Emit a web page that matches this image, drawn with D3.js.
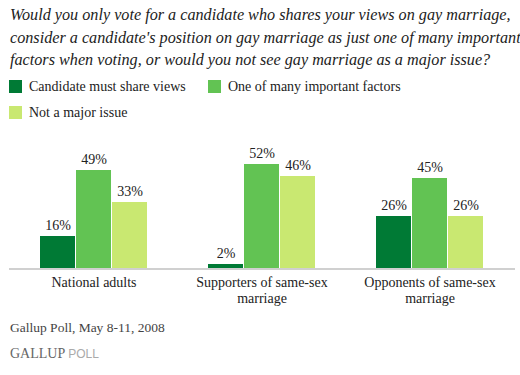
<!DOCTYPE html>
<html>
<head>
<meta charset="utf-8">
<script src="https://cdn.jsdelivr.net/npm/d3@7"></script>
</head>
<body style="margin:0">
<div id="chart"></div>
<script>
var categories = [["National adults"], ["Supporters of same-sex", "marriage"], ["Opponents of same-sex", "marriage"]];
var seriesNames = ["Candidate must share views", "One of many important factors", "Not a major issue"];
var mustShare = [16, 2, 26];
var manyFactors = [49, 52, 45];
var notMajor = [33, 46, 26];
var colors = ["#007a35", "#62c353", "#c9e871"];
var titleLines = [
  "Would you only vote for a candidate who shares your views on gay marriage,",
  "consider a candidate's position on gay marriage as just one of many important",
  "factors when voting, or would you not see gay marriage as a major issue?"
];

var width = 520, height = 375;
var svg = d3.select("#chart").append("svg")
    .attr("width", width)
    .attr("height", height);

// title
svg.append("g").selectAll("text")
    .data(titleLines)
  .enter().append("text")
    .attr("x", 10)
    .attr("y", function(d, i) { return 20 + i * 22.5; })
    .attr("font-family", "'Times New Roman'")
    .attr("font-style", "italic")
    .attr("font-size", 16.2)
    .attr("fill", "#222")
    .text(function(d) { return d; });

// legend
var legendPos = [[9, 80], [208, 80], [9, 106]];
var legend = svg.append("g").selectAll("g")
    .data(seriesNames)
  .enter().append("g")
    .attr("transform", function(d, i) { return "translate(" + legendPos[i][0] + "," + legendPos[i][1] + ")"; });
legend.append("rect")
    .attr("width", 13).attr("height", 13)
    .attr("fill", function(d, i) { return colors[i]; });
legend.append("text")
    .attr("x", 20).attr("y", 10.5)
    .attr("font-family", "'Times New Roman'")
    .attr("font-size", 14)
    .attr("fill", "#222")
    .text(function(d) { return d; });

// data table
var rows = categories.map(function(c, i) {
  return {cat: c, values: [mustShare[i], manyFactors[i], notMajor[i]]};
});

var baseline = 268;
var x0 = d3.scaleBand()
    .domain(d3.range(categories.length))
    .range([10, 514]);
var x1 = d3.scaleBand()
    .domain([0, 1, 2])
    .range([0, 108]);
var y = d3.scaleLinear()
    .domain([0, 100])
    .range([baseline, baseline - 200]);

var groups = svg.append("g").selectAll("g")
    .data(rows)
  .enter().append("g")
    .attr("transform", function(d, i) { return "translate(" + (x0(i) + x0.bandwidth() / 2 - 54) + ",0)"; });

groups.selectAll("rect")
    .data(function(d) { return d.values; })
  .enter().append("rect")
    .attr("x", function(d, i) { return x1(i); })
    .attr("width", x1.bandwidth() - 1)
    .attr("y", function(d) { return y(d); })
    .attr("height", function(d) { return baseline - y(d); })
    .attr("fill", function(d, i) { return colors[i]; });

groups.selectAll("text.val")
    .data(function(d) { return d.values; })
  .enter().append("text")
    .attr("class", "val")
    .attr("x", function(d, i) { return x1(i) + x1.bandwidth() / 2; })
    .attr("y", function(d) { return y(d) - 6; })
    .attr("text-anchor", "middle")
    .attr("font-family", "'Times New Roman'")
    .attr("font-size", 14)
    .attr("fill", "#222")
    .text(function(d) { return d + "%"; });

// axis line
svg.append("line")
    .attr("x1", 9).attr("x2", 515)
    .attr("y1", baseline + 1).attr("y2", baseline + 1)
    .attr("stroke", "#d0d0d0")
    .attr("stroke-width", 2);

// category labels
var catLabels = svg.append("g").selectAll("text")
    .data(rows)
  .enter().append("text")
    .attr("x", function(d, i) { return x0(i) + x0.bandwidth() / 2; })
    .attr("y", 287)
    .attr("text-anchor", "middle")
    .attr("font-family", "'Times New Roman'")
    .attr("font-size", 14)
    .attr("fill", "#222");
catLabels.selectAll("tspan")
    .data(function(d) { return d.cat; })
  .enter().append("tspan")
    .attr("x", function() { return d3.select(this.parentNode).attr("x"); })
    .attr("dy", function(d, i) { return i === 0 ? 0 : 15.5; })
    .text(function(d) { return d; });

// footer
svg.append("text")
    .attr("x", 10).attr("y", 332)
    .attr("font-family", "'Times New Roman'")
    .attr("font-size", 13.5)
    .attr("fill", "#444")
    .text("Gallup Poll, May 8-11, 2008");

var logo = svg.append("text")
    .attr("x", 10).attr("y", 358)
    .attr("font-family", "'Times New Roman'")
    .attr("font-size", 14);
logo.append("tspan")
    .attr("fill", "#666")
    .text("GALLUP ");
logo.append("tspan")
    .attr("fill", "#aaa")
    .attr("font-family", "'Liberation Sans'")
    .attr("font-size", 12)
    .text("POLL");
</script>
</body>
</html>
